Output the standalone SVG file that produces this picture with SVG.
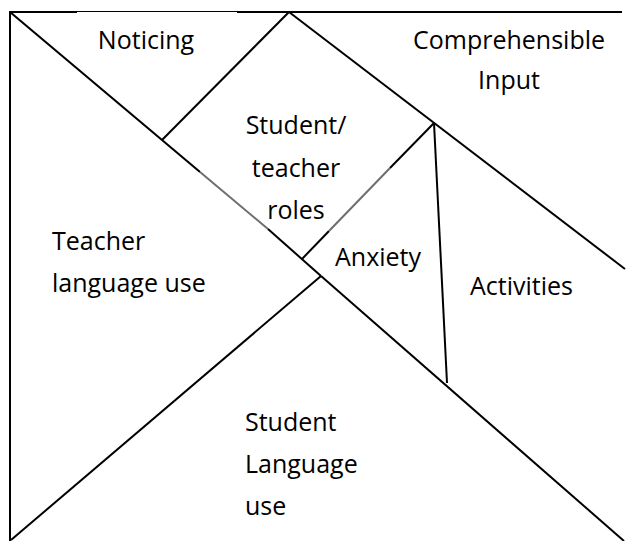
<svg xmlns="http://www.w3.org/2000/svg" width="626" height="541" viewBox="0 0 626 541">
  <style>
    .edge { stroke: #000; stroke-width: 2; fill: none; stroke-linecap: butt; }
    .thin { stroke: #000; stroke-width: 1; fill: none; }
    .grey { stroke: #6e6e6e; stroke-width: 2; fill: none; }
    .lbl { font-family: "Open Sans", "Liberation Sans", sans-serif; font-size: 25px; fill: #000; }
    .mid { text-anchor: middle; }
  </style>
  <rect width="626" height="541" fill="#fff"/>

  <!-- outline and piece edges -->
  <g id="connectors">
    <line class="edge" x1="10" y1="11" x2="10" y2="541"/>
    <line class="edge" x1="9" y1="12" x2="77" y2="12"/>
    <line class="thin" x1="77" y1="11.5" x2="237" y2="11.5"/>
    <line class="edge" x1="237" y1="12" x2="622" y2="12"/>
    <!-- long diagonal, top-left to bottom-right -->
    <line class="edge" x1="10" y1="12" x2="200" y2="172"/>
    <line class="grey" x1="200" y1="172" x2="268" y2="229"/>
    <line class="edge" x1="268" y1="229" x2="321" y2="276"/>
    <line class="edge" x1="321" y1="276" x2="624" y2="541"/>
    <!-- bottom-left to centre -->
    <line class="edge" x1="11" y1="540" x2="321" y2="276"/>
    <!-- noticing edge -->
    <line class="edge" x1="162" y1="140" x2="289" y2="12"/>
    <!-- comprehensible input edge -->
    <line class="edge" x1="289" y1="12" x2="625" y2="269"/>
    <!-- anxiety edges -->
    <line class="edge" x1="302" y1="259" x2="329" y2="231"/>
    <line class="grey" x1="329" y1="231" x2="390" y2="168"/>
    <line class="edge" x1="390" y1="168" x2="434" y2="123"/>
    <line class="edge" x1="434" y1="123" x2="447" y2="383"/>
  </g>

  <g id="noticing">
    <text class="lbl mid" x="146" y="49">Noticing</text>
  </g>
  <g id="comprehensible-input">
    <text class="lbl mid" x="509" y="49">Comprehensible</text>
    <text class="lbl mid" x="509" y="89">Input</text>
  </g>
  <g id="student-teacher-roles">
    <text class="lbl mid" x="296" y="134">Student/</text>
    <text class="lbl mid" x="296" y="177">teacher</text>
    <text class="lbl mid" x="296" y="219">roles</text>
  </g>
  <g id="teacher-language-use">
    <text class="lbl" x="52" y="250">Teacher</text>
    <text class="lbl" x="52" y="292">language use</text>
  </g>
  <g id="anxiety">
    <text class="lbl" x="335" y="266">Anxiety</text>
  </g>
  <g id="activities">
    <text class="lbl" x="470" y="295">Activities</text>
  </g>
  <g id="student-language-use">
    <text class="lbl" x="245" y="431">Student</text>
    <text class="lbl" x="245" y="473">Language</text>
    <text class="lbl" x="245" y="515">use</text>
  </g>
</svg>
